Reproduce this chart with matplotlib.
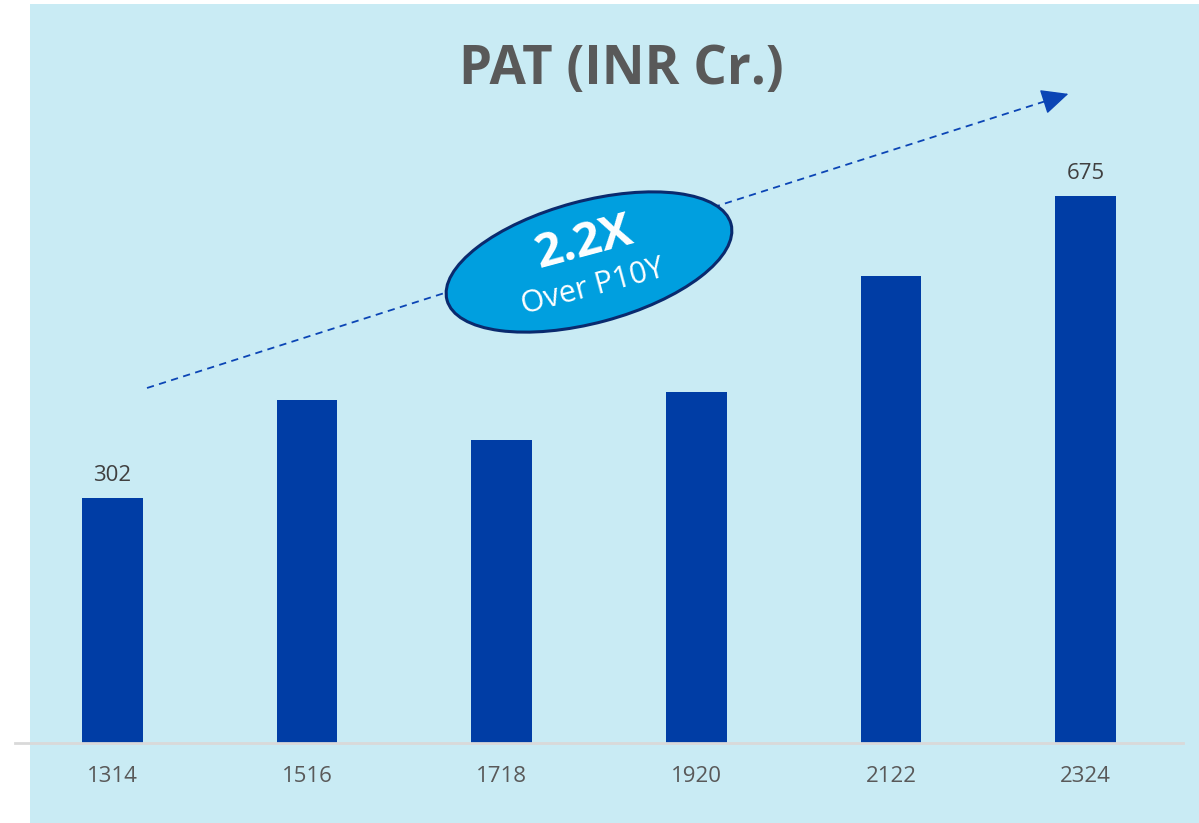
import matplotlib.pyplot as plt
from matplotlib.patches import Ellipse, Rectangle, FancyArrowPatch

plt.rcParams['font.family'] = ['Open Sans', 'DejaVu Sans']

years = ['1314', '1516', '1718', '1920', '2122', '2324']
pat = [302, 423, 374, 433, 577, 675]
shown = {0: '302', 5: '675'}

W, H = 1199, 823
fig = plt.figure(figsize=(W / 100, H / 100), dpi=100, facecolor='white')

# full-figure overlay in pixel coords (y from top)
bg = fig.add_axes([0, 0, 1, 1])
bg.set_xlim(0, W)
bg.set_ylim(H, 0)
bg.axis('off')
bg.add_patch(Rectangle((30, 4), W - 30, H - 4, facecolor='#C9EBF4', edgecolor='none'))

# bar axes
base = 742.5
ax = fig.add_axes([15 / W, (H - base) / H, (1183 - 15) / W, base / H])
ax.patch.set_alpha(0)
ax.bar(range(len(years)), pat, width=0.31, color='#003DA5', zorder=2)
ax.set_xlim(-0.5, 5.5)
ax.set_ylim(0, base / 0.809)
for s in ['top', 'right', 'left']:
    ax.spines[s].set_visible(False)
ax.spines['bottom'].set_color('#D9D9D9')
ax.spines['bottom'].set_linewidth(2)
ax.set_yticks([])
ax.set_xticks(range(len(years)))
ax.set_xticklabels(years, fontsize=16, color='#595959')
ax.tick_params(axis='x', length=0, pad=17)
for i, t in shown.items():
    ax.annotate(t, (i, pat[i]), xytext=(0, 9), textcoords='offset points',
                ha='center', va='bottom', fontsize=16, color='#404040')

# title
fig.text(621 / W, 1 - 70 / H, 'PAT (INR Cr.)', ha='center', va='center',
         fontsize=38, fontweight='bold', color='#595959')

# trend arrow: dashed shaft + solid head
x0, y0, x1, y1 = 147, 388, 1071, 93
bg.plot([x0, x1 - 0.015 * (x1 - x0)], [y0, y1 - 0.015 * (y1 - y0)],
        linestyle=(0, (4, 3)), linewidth=1.3, color='#0B45B5', zorder=3)
head = FancyArrowPatch((x1 - 0.03 * (x1 - x0), y1 - 0.03 * (y1 - y0)), (x1, y1),
                       arrowstyle='-|>,head_length=17,head_width=8', linewidth=1,
                       color='#0B45B5', mutation_scale=1, zorder=3)
bg.add_patch(head)

# growth badge
bg.add_patch(Ellipse((589, 262), 294, 122, angle=-15, facecolor='#009FDF',
                     edgecolor='#0A2A6E', linewidth=2.2, zorder=4))
bg.text(584, 243, '2.2X', ha='center', va='center', rotation=15, fontsize=34,
        fontweight='bold', color='white', zorder=5)
bg.text(593, 287, 'Over P10Y', ha='center', va='center', rotation=15, fontsize=22,
        color='white', zorder=5)

fig.savefig('out.png', dpi=100)
